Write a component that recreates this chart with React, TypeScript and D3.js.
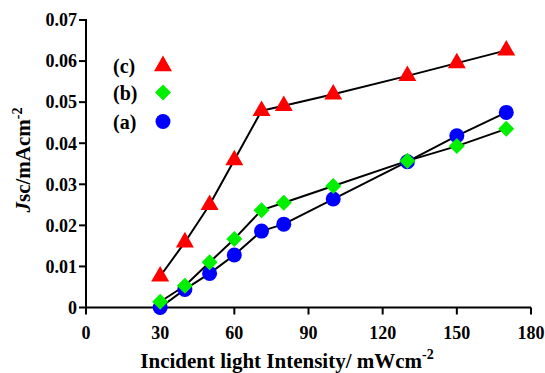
import React from "react";
import * as d3 from "d3";

const intensity = [30, 40, 50, 60, 71, 80, 100, 130, 150, 170];
const jscA = [0.0, 0.0044, 0.0083, 0.0128, 0.0186, 0.0203, 0.0264, 0.0355, 0.0418, 0.0475];
const jscB = [0.0014, 0.0053, 0.011, 0.0167, 0.0237, 0.0255, 0.0296, 0.0357, 0.0393, 0.0435];
const jscC = [0.0076, 0.0159, 0.025, 0.0359, 0.0479, 0.0491, 0.0519, 0.0564, 0.0595, 0.0626];
const xTicks = [0, 30, 60, 90, 120, 150, 180];
const yTicks = [0, 0.01, 0.02, 0.03, 0.04, 0.05, 0.06, 0.07];
const legendLabels = ["(c)", "(b)", "(a)"];

const W = 545, H = 373;
const FONT = "'Liberation Serif', 'Times New Roman', serif";

const x = d3.scaleLinear().domain([0, 180]).range([86, 531]);
const y = d3.scaleLinear().domain([0, 0.07]).range([307.5, 20]);

const line = d3.line<[number, number]>()
  .x(d => x(d[0]))
  .y(d => y(d[1]));

const tri = d3.symbol().type(d3.symbolTriangle).size(140)() as string;
const dia = d3.symbol().type(d3.symbolSquare).size(128)() as string;

function Marker({ kind, cx, cy }: { kind: string; cx: number; cy: number }) {
  if (kind === "c")
    return <path d={tri} transform={`translate(${cx},${cy})`} fill="#ff0000" />;
  if (kind === "b")
    return <path d={dia} transform={`translate(${cx},${cy}) rotate(45)`} fill="#00f000" />;
  return <circle cx={cx} cy={cy} r={7.5} fill="#0000ff" />;
}

export default function App() {
  const series = [
    { kind: "a", vals: jscA },
    { kind: "b", vals: jscB },
    { kind: "c", vals: jscC },
  ];
  return (
    <svg width={W} height={H} style={{ position: "absolute", left: 0, top: 0, background: "#fff" }}>
      {/* axes */}
      <g stroke="#000" strokeWidth={2}>
        <line x1={x(0)} x2={x(0)} y1={y(0.07) - 1} y2={y(0)} />
        <line x1={x(0)} x2={x(180)} y1={y(0)} y2={y(0)} />
        {yTicks.map(t => (
          <line key={t} x1={x(0) - 7} x2={x(0)} y1={y(t)} y2={y(t)} />
        ))}
        {xTicks.map(t => (
          <line key={t} x1={x(t)} x2={x(t)} y1={y(0)} y2={y(0) + 7} />
        ))}
      </g>
      <g fontFamily={FONT} fontWeight="bold" fontSize={18} fill="#000">
        {yTicks.map(t => (
          <text key={t} x={x(0) - 9} y={y(t)} dy="0.35em" textAnchor="end">
            {t === 0 ? "0" : t.toFixed(2)}
          </text>
        ))}
        {xTicks.map(t => (
          <text key={t} x={x(t)} y={338.5} textAnchor="middle">
            {t}
          </text>
        ))}
      </g>
      {/* axis titles */}
      <text x={287} y={368} textAnchor="middle" fontFamily={FONT} fontWeight="bold" fontSize={21}>
        Incident light Intensity/ mWcm
        <tspan dy={-9} fontSize={14}>-2</tspan>
      </text>
      <text
        transform="translate(30,160) rotate(-90)"
        textAnchor="middle"
        fontFamily={FONT}
        fontWeight="bold"
        fontSize={21}
      >
        <tspan fontStyle="italic">J</tspan>sc/mAcm
        <tspan dy={-8} fontSize={14}>-2</tspan>
      </text>
      {/* lines */}
      {series.map(s => (
        <path
          key={s.kind}
          d={line(intensity.map((v, i) => [v, s.vals[i]] as [number, number])) || ""}
          fill="none"
          stroke="#000"
          strokeWidth={2}
          strokeLinejoin="round"
        />
      ))}
      {/* markers */}
      {series.map(s => (
        <g key={s.kind}>
          {intensity.map((v, i) => (
            <Marker key={i} kind={s.kind} cx={x(v)} cy={y(s.vals[i])} />
          ))}
        </g>
      ))}
      {/* legend */}
      {legendLabels.map((lab, i) => {
        const ly = [66, 92.5, 121.5][i];
        return (
          <g key={lab}>
            <text x={113} y={ly} dy="0.35em" fontFamily={FONT} fontWeight="bold" fontSize={20}>
              {lab}
            </text>
            <Marker kind={["c", "b", "a"][i]} cx={163} cy={ly} />
          </g>
        );
      })}
    </svg>
  );
}
